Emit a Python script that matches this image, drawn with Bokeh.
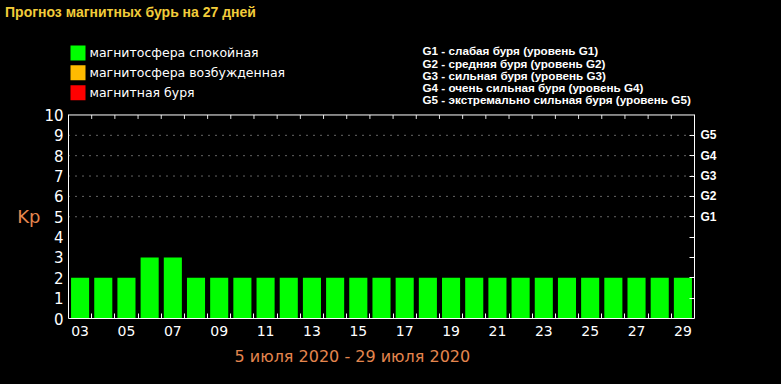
from bokeh.plotting import figure
from bokeh.models import Range1d, LinearAxis, FixedTicker, Span, Title, ColumnDataSource
from bokeh.core.properties import value
from bokeh.embed import file_html
from bokeh.resources import INLINE

# ---- data ----
days = ["03", "04", "05", "06", "07", "08", "09", "10", "11", "12", "13", "14", "15", "16",
        "17", "18", "19", "20", "21", "22", "23", "24", "25", "26", "27", "28", "29"]
kp = [2, 2, 2, 3, 3, 2, 2, 2, 2, 2, 2, 2, 2, 2, 2, 2, 2, 2, 2, 2, 2, 2, 2, 2, 2, 2, 2]
kp_ticks = [0, 1, 2, 3, 4, 5, 6, 7, 8, 9, 10]
legend_labels = ["магнитосфера спокойная", "магнитосфера возбужденная", "магнитная буря"]
legend_colors = ["#00ff00", "#ffbb00", "#ff0000"]
g_levels = [5, 6, 7, 8, 9]
g_labels = ["G1", "G2", "G3", "G4", "G5"]
g_desc = ["G1 - слабая буря (уровень G1)",
          "G2 - средняя буря (уровень G2)",
          "G3 - сильная буря (уровень G3)",
          "G4 - очень сильная буря (уровень G4)",
          "G5 - экстремально сильная буря (уровень G5)"]
title_text = "Прогноз магнитных бурь на 27 дней"
date_text = "5 июля 2020 - 29 июля 2020"
kp_label = "Kp"

# ---- layout (pixels) ----
W, H = 781, 384
FL, FR, FB = 68, 694, 318      # frame left/right/bottom
CT = 113                       # top of the chart box (Kp = 10)
FT = 40                        # top of the drawing frame (header lives above CT)
N = len(days)
KMAX = 10
ORANGE = "#e4864e"
PX = KMAX / (FB - CT)          # data units per vertical pixel


def yd(py):
    return (FB - py) * PX


def xd(px):
    return -0.5 + (px - FL) * N / (FR - FL)


def bar_color(v):
    if v < 5:
        return legend_colors[0]
    if v == 5:
        return legend_colors[1]
    return legend_colors[2]


p = figure(width=W, height=H, output_backend="svg", toolbar_location=None,
           x_range=Range1d(-0.5, N - 0.5), y_range=Range1d(0, yd(FT)),
           min_border_left=FL, min_border_right=W - FR, min_border_top=FT,
           min_border_bottom=H - FB, x_axis_location=None, y_axis_location=None)
p.styles = {"background-color": "black"}
p.background_fill_color = "black"
p.border_fill_color = "black"
p.outline_line_color = None
p.xgrid.visible = False
p.ygrid.visible = False

# bars
src = ColumnDataSource(dict(x=list(range(N)), top=kp, color=[bar_color(v) for v in kp]))
p.vbar(x="x", top="top", bottom=0, width=0.78, source=src, fill_color="color", line_color=None)

boundaries = [k - 0.5 for k in range(1, N)]

# left axis (numbers)
left = LinearAxis(ticker=FixedTicker(ticks=kp_ticks), bounds=(0, KMAX))
left.major_tick_in = 0
left.major_tick_out = 0
left.minor_tick_in = 0
left.minor_tick_out = 0
left.axis_line_color = "white"
left.major_label_text_color = "white"
left.major_label_text_font = "DejaVu Sans"
left.major_label_text_font_size = "15px"
left.major_label_standoff = 5
p.add_layout(left, "left")

# left axis (Kp caption at level 5)
kp_axis = LinearAxis(ticker=FixedTicker(ticks=[5]), major_label_overrides={5: kp_label})
kp_axis.axis_line_color = None
kp_axis.major_tick_line_color = None
kp_axis.minor_tick_line_color = None
kp_axis.major_tick_in = 0
kp_axis.major_tick_out = 0
kp_axis.major_label_text_color = ORANGE
kp_axis.major_label_text_font = "DejaVu Sans"
kp_axis.major_label_text_font_size = "18px"
kp_axis.major_label_standoff = 1
p.add_layout(kp_axis, "left")

# right axis (G levels)
right = LinearAxis(ticker=FixedTicker(ticks=kp_ticks[1:-1]), bounds=(0, KMAX))
overrides = {i: "" for i in kp_ticks}
for lv, lb in zip(g_levels, g_labels):
    overrides[lv] = lb
right.major_label_overrides = overrides
right.major_tick_in = 5
right.major_tick_out = 0
right.minor_tick_in = 0
right.minor_tick_out = 0
right.major_tick_line_color = "white"
right.axis_line_color = "white"
right.major_label_text_color = "white"
right.major_label_text_font = "Liberation Sans"
right.major_label_text_font_style = "bold"
right.major_label_text_font_size = "12px"
right.major_label_standoff = 6
p.add_layout(right, "right")

# top "axis" that only carries the page title as its label
title_axis = LinearAxis(ticker=FixedTicker(ticks=[xd(130)]),
                        major_label_overrides={xd(130): title_text})
title_axis.axis_line_color = None
title_axis.major_tick_line_color = None
title_axis.minor_tick_line_color = None
title_axis.major_tick_in = 0
title_axis.major_tick_out = 0
title_axis.major_label_text_color = "#f2cc3a"
title_axis.major_label_text_font = "Liberation Sans"
title_axis.major_label_text_font_style = "bold"
title_axis.major_label_text_font_size = "14px"
title_axis.major_label_standoff = FT - 17
p.add_layout(title_axis, "above")

# bottom axis
bottom = LinearAxis(ticker=FixedTicker(ticks=list(range(0, N, 2)), minor_ticks=boundaries))
bottom.major_label_overrides = {i: days[i] for i in range(0, N, 2)}
bottom.major_tick_in = 0
bottom.major_tick_out = 0
bottom.minor_tick_in = 5
bottom.minor_tick_out = 0
bottom.minor_tick_line_color = "white"
bottom.axis_line_color = "white"
bottom.major_label_text_color = "white"
bottom.major_label_text_font = "DejaVu Sans"
bottom.major_label_text_font_size = "14px"
bottom.major_label_standoff = 7
p.add_layout(bottom, "below")

# date caption below the axis
p.add_layout(Title(text=date_text, align="left", offset=234 - FL,
                   text_color=ORANGE, text_font="DejaVu Sans", text_font_style="normal",
                   text_font_size="16px", standoff=13), "below")

# top border of the chart box and its inward ticks
p.add_layout(Span(location=KMAX, dimension="width", line_color="white", line_width=1))
p.segment(x0=boundaries, x1=boundaries, y0=[KMAX] * len(boundaries),
          y1=[KMAX - 4 * PX] * len(boundaries), line_color="#e0e0e0", line_width=1)

# dotted level lines
for lv in g_levels:
    p.add_layout(Span(location=lv, dimension="width", line_color="#c8c8c8",
                      line_dash="1 6", line_width=1))

# header: colour legend
leg_y = [yd(50.5 + 20 * i) for i in range(len(legend_labels))]
p.rect(x=[xd(77.5)] * len(legend_labels), y=leg_y, width=15, height=15,
       width_units="screen", height_units="screen",
       fill_color=legend_colors, line_color=None)
p.text(x=[xd(89)] * len(legend_labels), y=leg_y, text=legend_labels, text_color="white",
       text_font=value("DejaVu Sans"), text_font_size="12.5px",
       text_baseline="middle", text_align="left")

# header: G-scale description
g_y = [yd(48.5 + 12.2 * i) for i in range(len(g_desc))]
p.text(x=[xd(422)] * len(g_desc), y=g_y, text=g_desc, text_color="white",
       text_font=value("Liberation Sans"), text_font_style="bold",
       text_font_size="11.7px", text_baseline="middle", text_align="left")

open("out.html", "w").write(file_html(p, INLINE))
